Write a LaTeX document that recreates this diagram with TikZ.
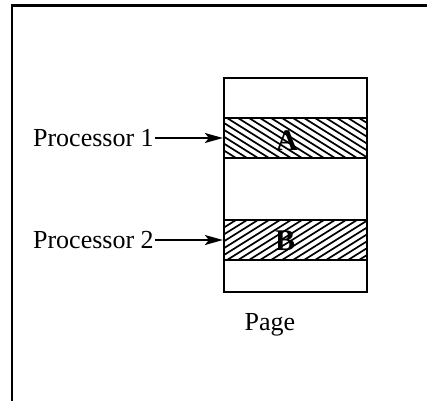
\documentclass[tikz,border=0pt]{standalone}
\usepackage{fontspec}
\setmainfont{Liberation Serif}
\usepackage{tikz}
\usetikzlibrary{positioning}
\usetikzlibrary{arrows.meta}

\begin{document}
\begin{tikzpicture}[x=1pt, y=1pt, font=\fontsize{26}{30}\selectfont,
    box/.style={draw, line width=2.2pt, minimum width=143pt, inner sep=0pt},
    band/.style={box, minimum height=40pt},
    hatch/.style={line width=1.7pt},
    letter/.style={font=\fontsize{30}{32}\selectfont\bfseries},
    feed/.style={-{Stealth[length=18pt, width=10pt, inset=4pt]}, line width=1.8pt}]
    \useasboundingbox (0,0) rectangle (427,400);

    % Frame
    \draw [line width=2.4pt] (12,-5) -- (12,394.5) -- (432,394.5);

    % Hatching of the two shared blocks
    \begin{scope}
        \clip (224,242) rectangle (367,282);
        \foreach \x in {150,161,...,380}
            \draw [hatch] (\x,282) -- ++(64,-40);
    \end{scope}
    \begin{scope}
        \clip (224,140) rectangle (367,180);
        \foreach \x in {150,161,...,380}
            \draw [hatch] (\x,140) -- ++(64,40);
    \end{scope}

    % Page with its two shared blocks
    \node [box, minimum height=214pt] (page) at (295.5,215) {};
    \node [band] (bandA) at (295.5,262) {};
    \node [band] (bandB) at (295.5,160) {};

    % Labels
    \node [letter] (letterA) at (287,259) {A};
    \node [letter] (letterB) at (285,159) {B};
    \node [anchor=base] (pagename) at (270,70) {Page};
    \node [left=68pt of bandA, inner sep=1pt] (proc1) {Processor 1};
    \node [left=68pt of bandB, inner sep=1pt] (proc2) {Processor 2};

    % Arrows
    \draw [feed] (proc1) -- (bandA);
    \draw [feed] (proc2) -- (bandB);

\end{tikzpicture}
\end{document}
